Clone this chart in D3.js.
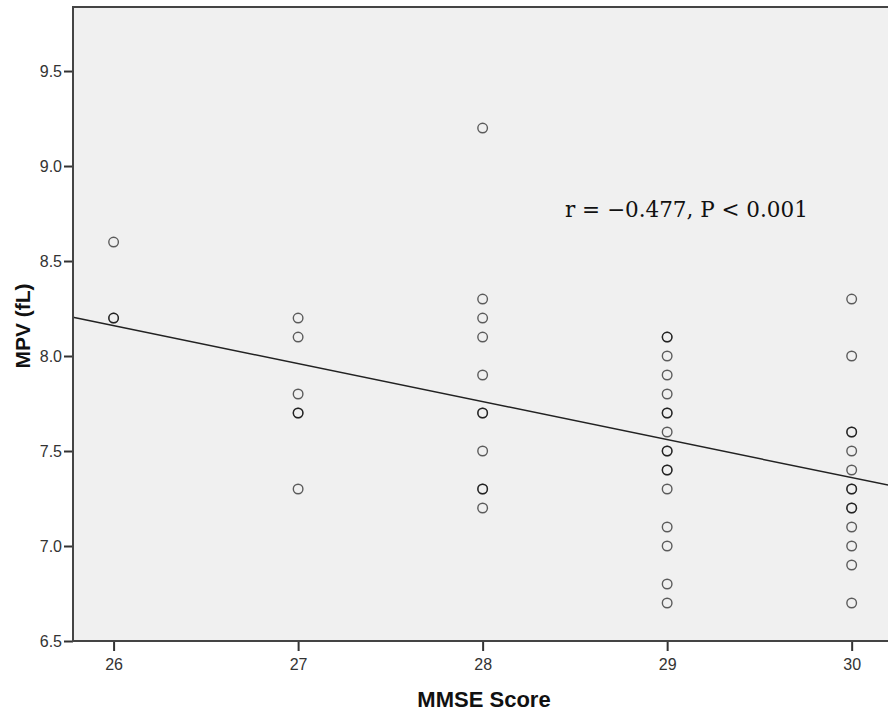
<!DOCTYPE html>
<html>
<head>
<meta charset="utf-8">
<script src="https://cdn.jsdelivr.net/npm/d3@7/dist/d3.min.js"></script>
<style>
  html, body { margin: 0; padding: 0; background: #ffffff; }
  svg { display: block; }
</style>
</head>
<body>
<svg id="chart" width="888" height="714"></svg>
<script>
// ---- data ----
const mmse26 = [8.6, 8.2, 8.2];
const mmse27 = [8.2, 8.1, 7.8, 7.7, 7.7, 7.3];
const mmse28 = [9.2, 8.3, 8.2, 8.1, 7.9, 7.7, 7.7, 7.5, 7.3, 7.3, 7.2];
const mmse29 = [8.1, 8.1, 8.0, 7.9, 7.8, 7.7, 7.7, 7.6, 7.5, 7.5, 7.4, 7.4, 7.3, 7.1, 7.0, 6.8, 6.7];
const mmse30 = [8.3, 8.0, 7.6, 7.6, 7.5, 7.4, 7.3, 7.3, 7.2, 7.2, 7.1, 7.0, 6.9, 6.7];
const scoreGroups = [26, 27, 28, 29, 30];
const groupValues = [mmse26, mmse27, mmse28, mmse29, mmse30];
const xTicks = [26, 27, 28, 29, 30];
const yTicks = [6.5, 7.0, 7.5, 8.0, 8.5, 9.0, 9.5];
const fitSlope = -0.2;
const fitIntercept = 13.36;
const annotation = "r = \u22120.477, P < 0.001";
const xTitle = "MMSE Score";
const yTitle = "MPV (fL)";

// ---- layout ----
const svg = d3.select("#chart");
const L = 73, T = 7, R = 893, B = 641;
const x = d3.scaleLinear().domain([25.78, 30.224]).range([L, R]);
const y = d3.scaleLinear().domain([6.5, 9.837]).range([B, T]);

// plot background
svg.append("rect").attr("x", L).attr("y", T).attr("width", R - L).attr("height", B - T)
  .attr("fill", "#f0f0f0").attr("stroke", "#444").attr("stroke-width", 2);

// points
const pts = [];
scoreGroups.forEach((s, i) => groupValues[i].forEach(v => pts.push({ s, v })));
svg.append("g").selectAll("circle").data(pts).enter().append("circle")
  .attr("cx", d => x(d.s)).attr("cy", d => y(d.v)).attr("r", 4.8)
  .attr("fill", "none").attr("stroke", "#000").attr("stroke-opacity", 0.62).attr("stroke-width", 1.4);

// regression line
const xd = x.domain();
svg.append("line")
  .attr("x1", x(xd[0])).attr("y1", y(fitIntercept + fitSlope * xd[0]))
  .attr("x2", x(xd[1])).attr("y2", y(fitIntercept + fitSlope * xd[1]))
  .attr("stroke", "#222").attr("stroke-width", 1.5);

// axes
const xAxis = svg.append("g").attr("transform", `translate(0,${B})`)
  .call(d3.axisBottom(x).tickValues(xTicks).tickFormat(d3.format("d")).tickSize(10).tickSizeOuter(0));
const yAxis = svg.append("g").attr("transform", `translate(${L},0)`)
  .call(d3.axisLeft(y).tickValues(yTicks).tickFormat(d3.format(".1f")).tickSize(9).tickSizeOuter(0));
[xAxis, yAxis].forEach(g => {
  g.select(".domain").remove();
  g.selectAll(".tick line").attr("stroke", "#333").attr("stroke-width", 2);
  g.selectAll(".tick text").attr("fill", "#333").attr("font-family", "Liberation Sans, Arial, sans-serif")
    .style("font-size", "16px");
});
xAxis.selectAll(".tick text").attr("y", 18).attr("dy", "0.71em");
yAxis.selectAll(".tick text").attr("x", -11);

// redraw frame edges on top
svg.append("line").attr("x1", L).attr("x2", L).attr("y1", T - 1).attr("y2", B + 1).attr("stroke", "#444").attr("stroke-width", 2);
svg.append("line").attr("x1", L - 1).attr("x2", R).attr("y1", B).attr("y2", B).attr("stroke", "#444").attr("stroke-width", 2);

// annotation
svg.append("text").attr("x", 565).attr("y", 217)
  .attr("font-family", "DejaVu Serif, Liberation Serif, serif").style("font-size", "21.5px").attr("fill", "#111")
  .text(annotation);

// titles
svg.append("text").attr("x", 484).attr("y", 707).attr("text-anchor", "middle")
  .attr("font-family", "Liberation Sans, Arial, sans-serif").attr("font-weight", "bold").style("font-size", "22px")
  .attr("fill", "#111").text(xTitle);
svg.append("text").attr("transform", "translate(30,326) rotate(-90)").attr("text-anchor", "middle")
  .attr("font-family", "Liberation Sans, Arial, sans-serif").attr("font-weight", "bold").style("font-size", "21px")
  .attr("fill", "#111").text(yTitle);
</script>
</body>
</html>
